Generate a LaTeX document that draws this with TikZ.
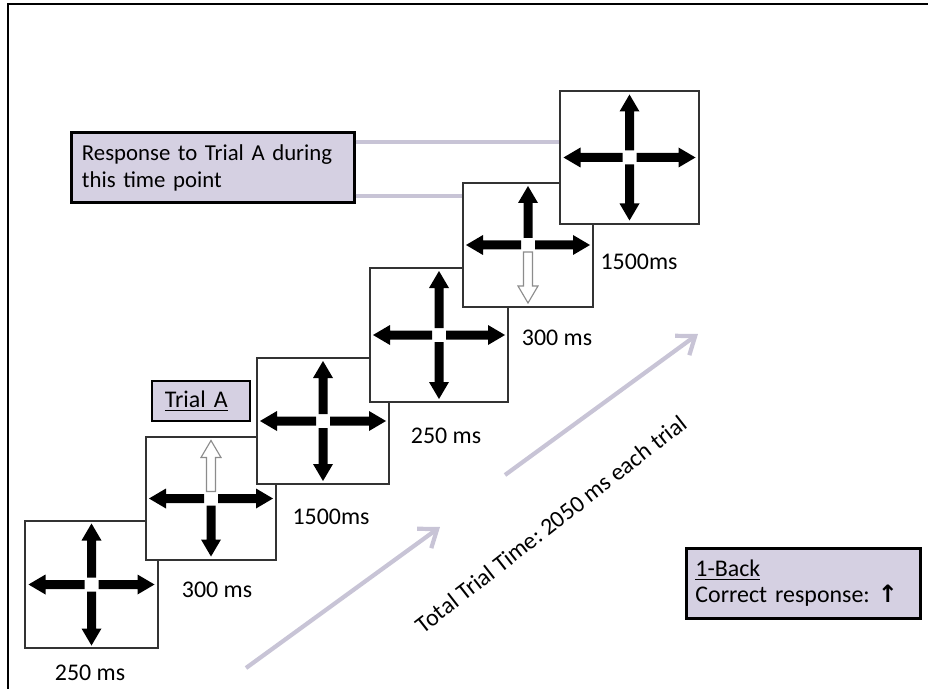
\documentclass[tikz,border=0pt]{standalone}
\usepackage{fontspec}
\setmainfont{Carlito}
\newfontfamily\symfont{DejaVu Sans}
\usetikzlibrary{arrows.meta,calc,positioning}
\definecolor{lavender}{RGB}{213,208,226}
\definecolor{timegray}{RGB}{200,196,214}
\frenchspacing
\tikzset{
  % a stimulus screen
  stimbox/.style  = {draw=black!80, line width=1.3pt, fill=white, inner sep=0pt},
  % a solid cue arrow
  cuesolid/.style = {fill=black},
  % the cue arrow that is the answer
  cuehollow/.style = {draw=black!45, line width=0.8pt, fill=white},
  % lavender note box
  notebox/.style  = {draw=black, line width=2.1pt, fill=lavender, inner sep=0pt, align=left},
  % duration of a screen
  tlabel/.style   = {inner sep=0pt},
  % line from the note to the screens
  linkline/.style = {draw=timegray, line width=2.2pt},
  % time axis arrow
  timearrow/.style = {draw=timegray, line width=3pt, -{Straight Barb[length=0.4cm,width=0.6cm]}},
}
% one cue arrow from the centre of a screen: style, dx, dy, length (px)
\newcommand{\cuearrow}[4]{%
  \path[#1] ({7*#2+4.5*#3},{7*#3-4.5*#2}) -- ({(#4-17)*#2+4.5*#3},{(#4-17)*#3-4.5*#2})
    -- ({(#4-17)*#2+10*#3},{(#4-17)*#3-10*#2}) -- ({#4*#2},{#4*#3})
    -- ({(#4-17)*#2-10*#3},{(#4-17)*#3+10*#2}) -- ({(#4-17)*#2-4.5*#3},{(#4-17)*#3+4.5*#2})
    -- ({7*#2-4.5*#3},{7*#3+4.5*#2}) -- cycle;}

\begin{document}
\begin{tikzpicture}[x=0.025cm, y=-0.025cm, font=\fontsize{17}{19.5}\selectfont]
  \useasboundingbox (0,0) rectangle (928,689);
  % frame
  \draw[line width=2pt] (8,689) -- (8,4) -- (928,4);

  % note boxes
  \node[notebox, minimum width=7.05cm, minimum height=1.73cm, text width=6.55cm,
        font=\fontsize{16.2}{19.2}\selectfont] (resp) at (213,167.5)
    {Response to Trial A during\\this time point};
  \draw[linkline] (resp.east |- 0,142) -- (629,142);
  \draw[linkline] (resp.east |- 0,196) -- (528,196);

  % screens
  \node[stimbox, minimum width=3.33cm, minimum height=3.18cm] (b1) at (91.5,584.5) {};
  \begin{scope}[shift={(b1.center)}]
    \foreach \dx/\dy/\len in {1/0/63,-1/0/63,0/1/61,0/-1/61} {\cuearrow{cuesolid}{\dx}{\dy}{\len}}
  \end{scope}
  \node[stimbox, minimum width=3.25cm, minimum height=3.08cm] (b2) at (211,498.5) {};
  \begin{scope}[shift={(b2.center)}]
    \foreach \dx/\dy/\len in {1/0/62,-1/0/62,0/1/58} {\cuearrow{cuesolid}{\dx}{\dy}{\len}}
    \cuearrow{cuehollow}{0}{-1}{58}
  \end{scope}
  \node[stimbox, minimum width=3.3cm, minimum height=3.15cm] (b3) at (323,421) {};
  \begin{scope}[shift={(b3.center)}]
    \foreach \dx/\dy/\len in {1/0/63,-1/0/63,0/1/60,0/-1/60} {\cuearrow{cuesolid}{\dx}{\dy}{\len}}
  \end{scope}
  \node[stimbox, minimum width=3.45cm, minimum height=3.35cm] (b4) at (439,335) {};
  \begin{scope}[shift={(b4.center)}]
    \foreach \dx/\dy/\len in {1/0/66,-1/0/66,0/1/64,0/-1/64} {\cuearrow{cuesolid}{\dx}{\dy}{\len}}
  \end{scope}
  \node[stimbox, minimum width=3.25cm, minimum height=3.1cm] (b5) at (528,245) {};
  \begin{scope}[shift={(b5.center)}]
    \foreach \dx/\dy/\len in {1/0/62,-1/0/62,0/-1/59} {\cuearrow{cuesolid}{\dx}{\dy}{\len}}
    \cuearrow{cuehollow}{0}{1}{58}
  \end{scope}
  \node[stimbox, minimum width=3.48cm, minimum height=3.33cm] (b6) at (629.5,157.5) {};
  \begin{scope}[shift={(b6.center)}]
    \foreach \dx/\dy/\len in {1/0/66,-1/0/66,0/1/63,0/-1/63} {\cuearrow{cuesolid}{\dx}{\dy}{\len}}
  \end{scope}

  % durations
  \node[tlabel] (d1) at (90,673) {250 ms};
  \node[tlabel] (d2) at (217,590) {300 ms};
  \node[tlabel] (d3) at (331,517) {1500ms};
  \node[tlabel] (d4) at (446,436) {250 ms};
  \node[tlabel] (d5) at (557,338) {300 ms};
  \node[tlabel] (d6) at (639,262) {1500ms};

  \node[notebox, minimum width=2.45cm, minimum height=1cm, text width=1.8cm] (trialA) at (201,401)
    {\underline{Trial A}};

  % time axis
  \coordinate (ta1) at (246,668);
  \coordinate (tb1) at (440,527);
  \coordinate (ta2) at (505,475);
  \coordinate (tb2) at (698,334);
  \draw[timearrow] (ta1) -- (tb1);
  \draw[timearrow] (ta2) -- (tb2);
  \node[rotate=38] (total) at (551,524) {Total Trial Time: 2050 ms each trial};

  \node[notebox, minimum width=5.83cm, minimum height=1.73cm, text width=5.4cm,
        font=\fontsize{17}{18.5}\selectfont] (oneback) at (803.5,583.5)
    {\underline{1-Back}\\Correct response: {\symfont\bfseries ↑}};
\end{tikzpicture}
\end{document}
